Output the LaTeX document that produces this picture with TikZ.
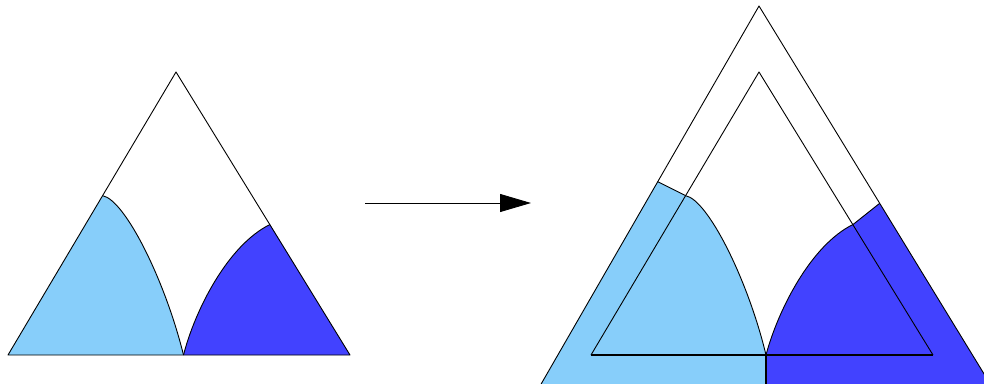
\documentclass[tikz,border=0pt]{standalone}
\usepackage{tikz}
\usetikzlibrary{arrows.meta,positioning,calc}
\definecolor{lightregion}{RGB}{135,206,250}
\definecolor{darkregion}{RGB}{66,66,255}

\begin{document}
\begin{tikzpicture}[
    x=1pt, y=-1pt,
    edge/.style={draw=black, line width=0.9pt, line join=round},
    base/.style={draw=black, line width=1.5pt},
    lightpart/.style={fill=lightregion},
    darkpart/.style={fill=darkregion},
    arrow/.style={-{Triangle[length=31pt,width=18pt]}, line width=0.9pt}
  ]
    \useasboundingbox (0,0) rectangle (984,383);
    \clip (0,0) rectangle (984,383);

    % left triangle
    \coordinate (la) at (8,355);
    \coordinate (lb) at (350,355);
    \coordinate (lc) at (176,72);
    \coordinate (lp) at (102.7,195.7);
    \coordinate (lm) at (183.5,355);
    \coordinate (lq) at (270,224.5);

    \fill[lightpart] (la) -- (lp) .. controls (125,200) and (165,280) .. (lm) -- cycle;
    \fill[darkpart] (lm) .. controls (195,310) and (228,245) .. (lq) -- (lb) -- cycle;
    \draw[edge] (la) -- (lb) -- (lc) -- cycle;
    \draw[edge] (lp) .. controls (125,200) and (165,280) .. (lm);
    \draw[edge] (lm) .. controls (195,310) and (228,245) .. (lq);

    % arrow
    \coordinate (from) at (365,203);
    \coordinate (to) at (531,203);
    \draw[arrow] (from) -- (to);

    % right: inner triangle
    \coordinate (ra) at (591,355);
    \coordinate (rb) at (933,355);
    \coordinate (rc) at (759,72);
    \coordinate (rp) at (685.7,195.7);
    \coordinate (rm) at (766,355);
    \coordinate (rq) at (853,224.5);
    % right: outer triangle
    \coordinate (oa) at (531.9,400);
    \coordinate (ob) at (1000,400);
    \coordinate (oc) at (759,6);
    \coordinate (op) at ($(oc)!0.446!(oa)$);
    \coordinate (oq) at ($(oc)!0.5008!(ob)$);
    \coordinate (rmb) at (766,400);

    \fill[lightpart] (oa) -- (op) -- (rp) .. controls (708,200) and (748,280) .. (rm) -- (rmb) -- cycle;
    \fill[darkpart] (rmb) -- (rm) .. controls (778,310) and (811,245) .. (rq) -- (oq) -- (ob) -- cycle;
    \draw[edge] (oa) -- (oc) -- (ob);
    \draw[edge] (ra) -- (rc) -- (rb);
    \draw[base] (ra) -- (rb);
    \draw[edge] (rp) .. controls (708,200) and (748,280) .. (rm);
    \draw[edge] (rm) .. controls (778,310) and (811,245) .. (rq);
    \draw[edge] (op) -- (rp);
    \draw[edge] (rq) -- (oq);
    \draw[base] (rm) -- (rmb);
\end{tikzpicture}
\end{document}
